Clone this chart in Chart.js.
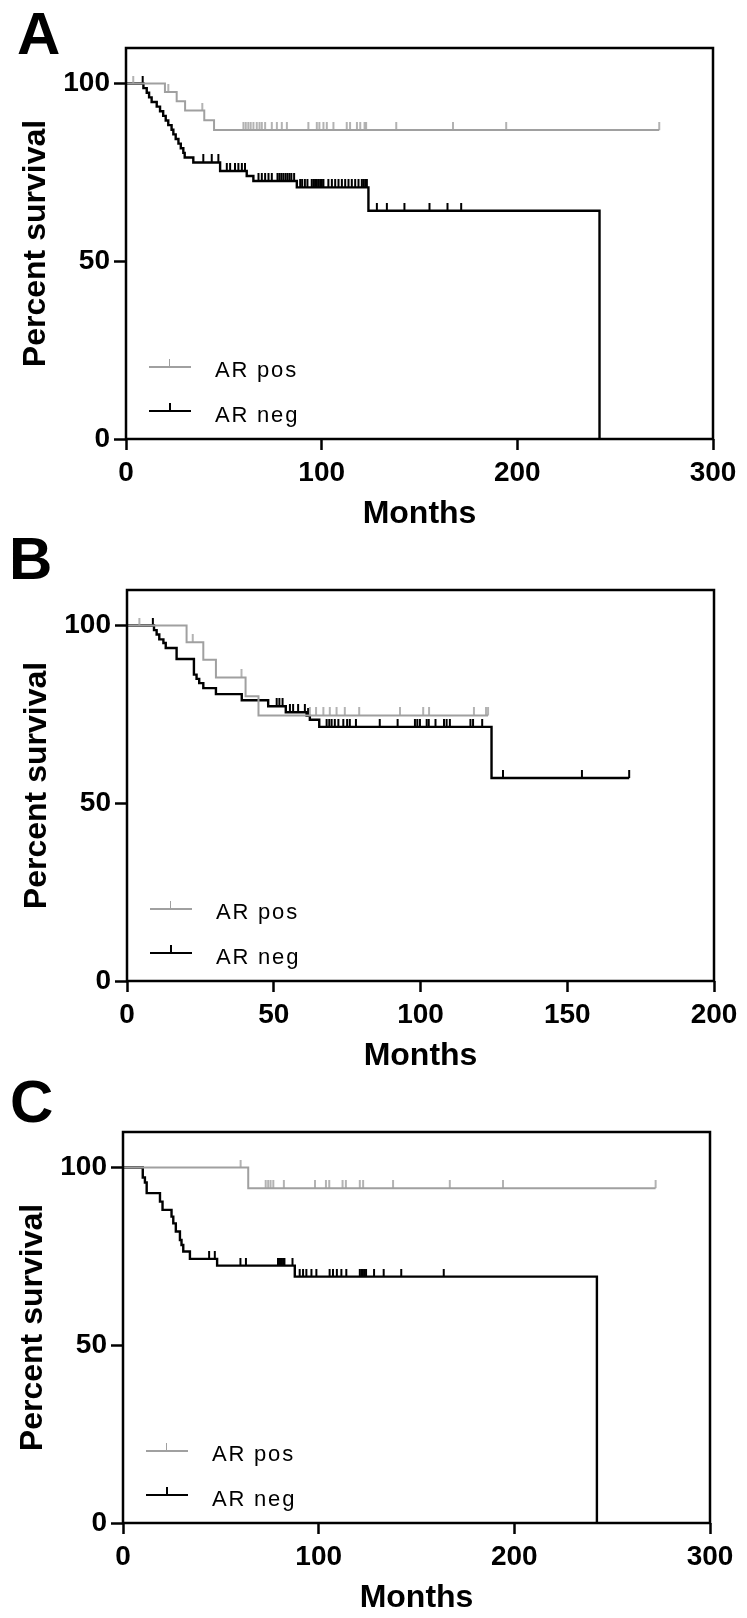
<!DOCTYPE html>
<html><head><meta charset="utf-8">
<script src="https://cdn.jsdelivr.net/npm/chart.js@4.4.0/dist/chart.umd.min.js"></script>
<style>
html,body{margin:0;padding:0;background:#fff;}
body{width:747px;height:1618px;overflow:hidden;position:relative;font-family:"Liberation Sans",Arial,sans-serif;color:#000;}
.panel{position:absolute;width:747px;height:545px;}
.panel canvas{position:absolute;left:0;top:0;}
.letter{position:absolute;font-weight:bold;font-size:60px;line-height:60px;}
.lline{position:absolute;left:149px;width:42px;height:0;}
.ltick{position:absolute;left:169px;height:7px;}
.ltext{position:absolute;left:215px;font-size:22px;line-height:22px;letter-spacing:1.8px;white-space:nowrap;}
.pos .lline{top:368px;border-top:2px solid #a0a0a0;}
.pos .ltick{top:361px;width:0;border-left:1.5px solid #a0a0a0;}
.pos.ltext{top:361px;}
.neg .lline{top:412px;border-top:2.5px solid #000;}
.neg .ltick{top:405px;width:0;border-left:2px solid #000;}
.neg.ltext{top:406px;}
</style></head><body>

<div class="letter" style="left:17px;top:4px;">A</div>
<div class="letter" style="left:9px;top:529px;">B</div>
<div class="letter" style="left:10px;top:1072px;">C</div>

<div class="panel" id="pA" style="left:0;top:-2px;"><canvas id="cA" width="747" height="545"></canvas></div>
<div class="panel" id="pB" style="left:1px;top:540px;"><canvas id="cB" width="747" height="545"></canvas></div>
<div class="panel" id="pC" style="left:-3px;top:1082px;"><canvas id="cC" width="747" height="545"></canvas></div>

<script>
// ---------- DATA ----------
const yTickValues = [0, 50, 100];
const xTicksA = [0, 100, 200, 300];
const xTicksB = [0, 50, 100, 150, 200];
const xTicksC = [0, 100, 200, 300];
const seriesLabels = ["AR pos", "AR neg"];

// Panel A
const aPosEventMonths   = [19.9, 25.9, 30.2, 40.0, 45.0];
const aPosEventSurvival = [97.6, 95.0, 92.4, 89.7, 86.9];
const aPosCensorMonths  = [3.7, 21.6, 39.0, 60.0, 61.2, 62.5, 63.7, 65.1, 66.8, 68.2, 69.4, 71.1, 74.5, 77.1, 79.6, 82.2,
  93.2, 97.5, 98.8, 100.9, 102.6, 106.0, 112.8, 114.5, 118.0, 119.7, 121.9, 122.7, 138.1, 167.1, 194.3, 272.5];
const aNegEventMonths   = [8.9, 10.6, 11.8, 13.1, 15.7, 17.4, 19.0, 20.3, 21.6, 23.3, 24.2, 25.4, 26.8, 28.0, 29.3, 30.0,
  34.4, 48.1, 61.7, 65.1, 87.3, 123.9, 242.0];
const aNegEventSurvival = [98.7, 97.4, 96.1, 94.8, 93.5, 92.2, 90.9, 89.6, 88.3, 87.0, 85.7, 84.4, 83.1, 81.8, 80.5, 79.2,
  77.8, 75.4, 74.0, 72.6, 70.8, 64.2, 0];
const aNegCensorMonths  = [8.5, 39.5, 43.8, 47.2, 51.5, 53.2, 55.7, 57.4, 59.2, 60.8, 67.7, 69.4, 71.1, 72.8, 74.5, 77.4,
  78.4, 79.4, 80.4, 81.5, 82.5, 83.5, 84.5, 85.9, 89.0, 90.0, 91.4, 92.7, 94.9, 95.8, 96.6, 97.5, 98.3, 99.2, 100.1,
  100.9, 103.4, 105.2, 106.9, 108.6, 110.3, 112.0, 113.7, 115.4, 117.1, 118.8, 120.5, 121.3, 122.2, 123.1, 128.2,
  133.3, 142.3, 155.1, 164.3, 171.3];

// Panel B
const bPosEventMonths   = [20.3, 26.0, 30.3, 40.4, 44.8];
const bPosEventSurvival = [95.3, 90.4, 85.4, 80.1, 74.7];
const bPosCensorMonths  = [4.2, 22.4, 39.0, 62.3, 64.4, 66.9, 69.1, 71.4, 74.2, 79.1, 93.0, 100.9, 102.9, 118.2, 122.3, 123.0];
const bNegEventMonths   = [9.2, 10.1, 11.0, 12.4, 13.2, 16.9, 22.8, 23.7, 24.6, 26.0, 30.3, 39.1, 48.1, 54.1, 61.2, 62.3, 65.5, 124.2];
const bNegEventSurvival = [98.7, 97.5, 96.1, 95.1, 93.7, 90.6, 86.2, 85.0, 83.8, 82.4, 80.7, 79.0, 77.3, 75.6, 74.6, 73.5, 71.5, 57.1];
const bNegCensorMonths  = [8.8, 51.0, 51.9, 53.0, 55.5, 56.6, 58.3, 60.6, 61.7, 68.0, 68.9, 69.7, 70.8, 72.0, 73.7, 75.0,
  75.9, 78.0, 86.1, 92.2, 98.1, 98.9, 99.8, 102.1, 102.8, 105.1, 108.0, 108.9, 110.0, 117.0, 117.9, 121.0, 128.1, 155.0, 171.1];

// Panel C
const cPosEventMonths   = [64.0];
const cPosEventSurvival = [94.2];
const cPosCensorMonths  = [60.1, 72.9, 74.2, 75.4, 76.8, 82.2, 98.1, 103.7, 105.4, 112.2, 113.9, 121.0, 122.7, 138.0, 167.0, 194.2, 272.2];
const cNegEventMonths   = [10.1, 11.2, 12.1, 18.9, 20.2, 24.8, 25.7, 27.0, 29.1, 29.9, 30.8, 34.2, 48.1, 87.8, 242.2];
const cNegEventSurvival = [97.2, 95.8, 92.8, 90.4, 88.1, 86.2, 84.3, 82.0, 79.6, 78.2, 76.4, 74.3, 72.4, 69.3, 0];
const cNegCensorMonths  = [44.0, 46.9, 60.0, 62.8, 79.2, 79.8, 80.5, 81.2, 81.9, 82.5, 86.6, 90.3, 92.0, 93.7, 96.3, 98.8,
  105.6, 107.3, 109.3, 111.6, 114.1, 121.0, 121.8, 122.6, 123.4, 124.2, 128.3, 133.2, 142.2, 163.9];

// ---------- helpers ----------
const FONT = "'Liberation Sans', Arial, sans-serif";
const GRAY = '#a0a0a0';
const BLACK = '#000000';

function stepPoints(evT, evS, censT) {
  const pts = [{x: 0, y: 100}];
  for (let i = 0; i < evT.length; i++) pts.push({x: evT[i], y: evS[i]});
  const lastC = Math.max.apply(null, censT);
  const lastE = evT[evT.length - 1];
  const lastS = evS[evS.length - 1];
  if (lastC > lastE && lastS > 0) pts.push({x: lastC, y: lastS});
  return pts;
}
function levelAt(evT, evS, t) {
  let s = 100;
  for (let i = 0; i < evT.length; i++) { if (evT[i] <= t) s = evS[i]; }
  return s;
}
function censorPoints(evT, evS, censT) {
  return censT.map(t => ({x: t, y: levelAt(evT, evS, t)}));
}
function tickImage(color, w, len) {
  const c = document.createElement('canvas');
  c.width = 6; c.height = 2 * len + 2;
  const g = c.getContext('2d');
  g.strokeStyle = color; g.lineWidth = w;
  g.beginPath(); g.moveTo(3, 0); g.lineTo(3, len + 1); g.stroke();
  return c;
}
const grayTick = tickImage(GRAY, 1.6, 7);
const blackTick = tickImage(BLACK, 2, 7);

const framePlugin = {
  id: 'frame',
  afterDatasetsDraw(chart) {
    const {ctx, chartArea: a} = chart;
    ctx.save();
    ctx.strokeStyle = '#000';
    ctx.lineWidth = 2.5;
    ctx.strokeRect(a.left, a.top, a.right - a.left, a.bottom - a.top);
    ctx.restore();
  }
};

function makeChart(id, xMax, xTicks, posT, posS, posC, negT, negS, negC) {
  const datasets = [
    {label: seriesLabels[0], data: stepPoints(posT, posS, posC), showLine: true, stepped: 'before',
     borderColor: GRAY, borderWidth: 2, pointRadius: 0, fill: false},
    {label: seriesLabels[0] + ' censored', data: censorPoints(posT, posS, posC), showLine: false,
     pointStyle: grayTick, pointRadius: 3},
    {label: seriesLabels[1], data: stepPoints(negT, negS, negC), showLine: true, stepped: 'before',
     borderColor: BLACK, borderWidth: 2.4, pointRadius: 0, fill: false},
    {label: seriesLabels[1] + ' censored', data: censorPoints(negT, negS, negC), showLine: false,
     pointStyle: blackTick, pointRadius: 3}
  ];
  return new Chart(document.getElementById(id), {
    type: 'scatter',
    data: {datasets},
    plugins: [framePlugin],
    options: {
      responsive: false, animation: false, devicePixelRatio: 1,
      layout: {padding: {top: 50, right: 34, left: 0, bottom: 0}},
      plugins: {legend: {display: false}, tooltip: {enabled: false}},
      events: [],
      scales: {
        x: {
          type: 'linear', min: 0, max: xMax, position: 'bottom',
          afterBuildTicks: s => { s.ticks = xTicks.map(v => ({value: v})); },
          afterFit: s => { s.height = 104; },
          ticks: {color: '#000', font: {family: FONT, size: 28, weight: 'bold'}, padding: 6, maxRotation: 0, autoSkip: false},
          grid: {drawOnChartArea: false, drawTicks: true, tickLength: 11, tickWidth: 2.5, tickColor: '#000', color: '#000'},
          border: {display: false},
          title: {display: true, text: 'Months', color: '#000', font: {family: FONT, size: 32, weight: 'bold'}, padding: {top: 0, bottom: 10}}
        },
        y: {
          type: 'linear', min: 0, max: 110, position: 'left',
          afterBuildTicks: s => { s.ticks = yTickValues.map(v => ({value: v})); },
          afterFit: s => { s.width = 126; },
          ticks: {color: '#000', font: {family: FONT, size: 28, weight: 'bold'}, padding: 4},
          grid: {drawOnChartArea: false, drawTicks: true, tickLength: 12, tickWidth: 2.5, tickColor: '#000', color: '#000'},
          border: {display: false},
          title: {display: true, text: 'Percent survival', color: '#000', font: {family: FONT, size: 32, weight: 'bold'}, padding: {top: 17, bottom: 0}}
        }
      }
    }
  });
}

makeChart('cA', 300, xTicksA, aPosEventMonths, aPosEventSurvival, aPosCensorMonths, aNegEventMonths, aNegEventSurvival, aNegCensorMonths);
makeChart('cB', 200, xTicksB, bPosEventMonths, bPosEventSurvival, bPosCensorMonths, bNegEventMonths, bNegEventSurvival, bNegCensorMonths);
makeChart('cC', 300, xTicksC, cPosEventMonths, cPosEventSurvival, cPosCensorMonths, cNegEventMonths, cNegEventSurvival, cNegCensorMonths);

// legends (text from the series labels)
['pA', 'pB', 'pC'].forEach(pid => {
  const p = document.getElementById(pid);
  ['pos', 'neg'].forEach((k, i) => {
    const l = document.createElement('div'); l.className = k;
    l.innerHTML = '<div class="lline"></div><div class="ltick"></div>';
    p.appendChild(l);
    const t = document.createElement('div'); t.className = 'ltext ' + k; t.textContent = seriesLabels[i];
    p.appendChild(t);
  });
});
</script>
</body></html>
